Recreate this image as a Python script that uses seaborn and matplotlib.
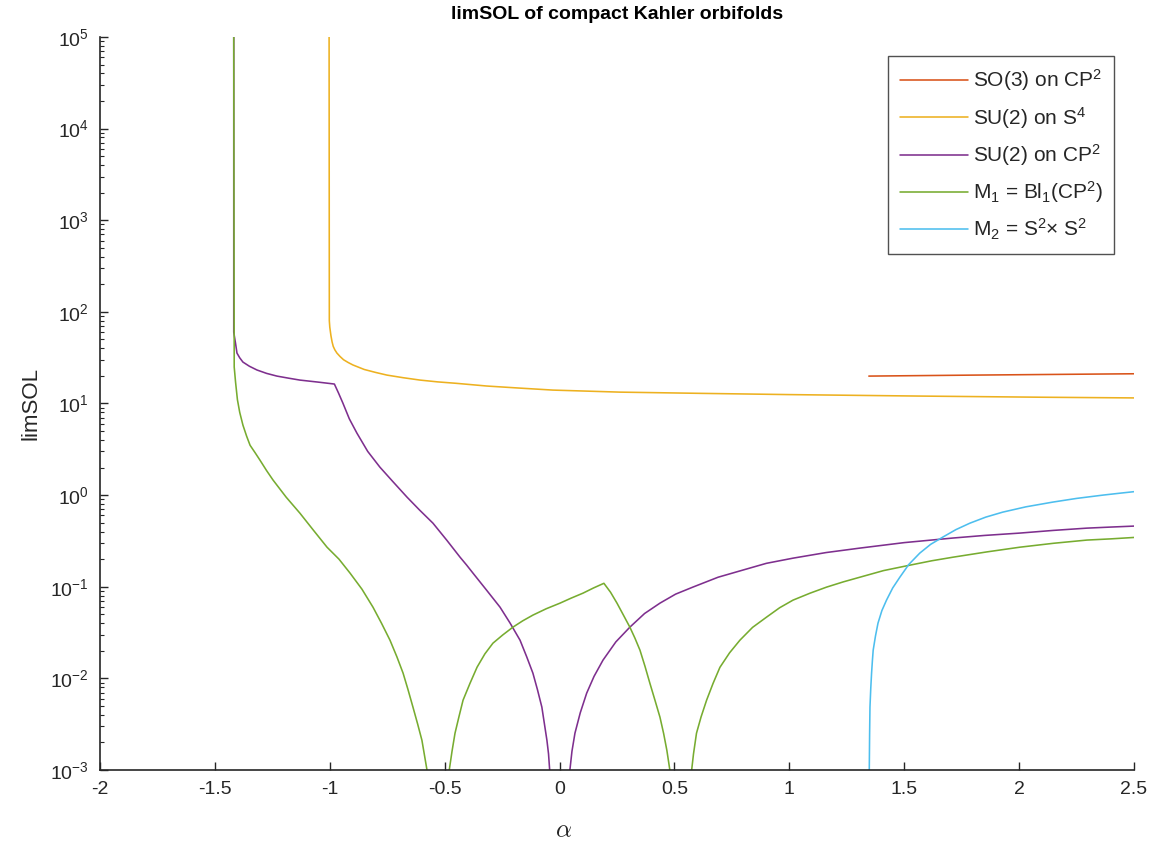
import numpy as np
import pandas as pd
import matplotlib
matplotlib.use("Agg")
import matplotlib.pyplot as plt
import seaborn as sns

# values (alpha, limSOL)
so3_cp2_alpha = [1.346, 1.8, 2.2, 2.5]
so3_cp2_val = [19.9, 20.4, 20.8, 21.1]

su2_s4_alpha = [-1.003, -1.002, -1.0, -0.995, -0.99, -0.985, -0.978, -0.969, -0.955, -0.94,
                -0.92, -0.899, -0.85, -0.8, -0.751, -0.68, -0.607, -0.53, -0.45, -0.316,
                -0.17, -0.029, 0.263, 0.61, 1.0, 1.56, 2.1, 2.5]
su2_s4_val = [1e5, 80, 68, 55, 47, 42, 38.5, 35.5, 32.5, 30,
              28, 26.3, 23.5, 21.8, 20.4, 19.1, 18.0, 17.2, 16.6, 15.5,
              14.7, 14.0, 13.3, 12.9, 12.5, 12.05, 11.7, 11.5]

su2_cp2_a1 = [-1.418, -1.418, -1.41, -1.404, -1.392, -1.378, -1.35, -1.317, -1.275, -1.23,
              -1.18, -1.13, -1.05, -0.98, -0.962, -0.943, -0.915, -0.882, -0.835, -0.782,
              -0.725, -0.664, -0.61, -0.551, -0.49, -0.433, -0.405, -0.377, -0.318, -0.259,
              -0.215, -0.172, -0.143, -0.116, -0.096, -0.077, -0.066, -0.055, -0.048, -0.043]
su2_cp2_v1 = [1e5, 60, 45, 35.5, 31.5, 28.3, 25.5, 23.2, 21.3, 19.9,
              18.9, 18.0, 17.1, 16.3, 13.0, 10.1, 6.8, 4.75, 3.0, 2.02,
              1.4, 0.951, 0.69, 0.494, 0.32, 0.21, 0.173, 0.141, 0.092, 0.0598,
              0.04, 0.0261, 0.0172, 0.0114, 0.0075, 0.00485, 0.0032, 0.00211, 0.0015, 0.001]
su2_cp2_a2 = [0.045, 0.054, 0.067, 0.09, 0.118, 0.15, 0.189, 0.245, 0.306, 0.37,
              0.437, 0.505, 0.58, 0.69, 0.798, 0.9, 1.016, 1.16, 1.307, 1.5,
              1.712, 1.85, 2.003, 2.15, 2.295, 2.4, 2.5]
su2_cp2_v2 = [0.001, 0.0016, 0.00252, 0.0042, 0.00689, 0.0105, 0.0158, 0.025, 0.0362, 0.051,
              0.0662, 0.083, 0.099, 0.127, 0.152, 0.18, 0.205, 0.236, 0.264, 0.303,
              0.34, 0.363, 0.385, 0.412, 0.436, 0.448, 0.459]

m1_a1 = [-1.418, -1.416, -1.41, -1.402, -1.392, -1.378, -1.362, -1.347, -1.325, -1.304,
         -1.275, -1.247, -1.19, -1.13, -1.07, -1.012, -0.96, -0.912, -0.86, -0.812,
         -0.775, -0.738, -0.708, -0.681, -0.66, -0.638, -0.618, -0.599, -0.577]
m1_v1 = [1e5, 25, 17, 11, 8.0, 5.8, 4.4, 3.5, 2.9, 2.41,
         1.85, 1.46, 0.95, 0.635, 0.41, 0.27, 0.2, 0.141, 0.094, 0.0598,
         0.040, 0.0261, 0.0172, 0.0114, 0.0076, 0.00485, 0.0032, 0.00211, 0.001]
m1_a2 = [-0.48, -0.468, -0.455, -0.438, -0.42, -0.39, -0.359, -0.325, -0.29, -0.247,
         -0.203, -0.16, -0.116, -0.058, 0.002, 0.05, 0.102, 0.148, 0.193,
         0.222, 0.25, 0.278, 0.306, 0.328, 0.35, 0.372, 0.393, 0.415, 0.437, 0.453, 0.467, 0.48]
m1_v2 = [0.001, 0.0016, 0.00252, 0.0038, 0.00578, 0.0088, 0.01324, 0.0185, 0.0242, 0.0298,
         0.0362, 0.0425, 0.049, 0.0575, 0.0662, 0.075, 0.0851, 0.097, 0.109,
         0.087, 0.0662, 0.049, 0.0362, 0.0275, 0.0203, 0.0135, 0.00887, 0.0058, 0.00377,
         0.0025, 0.00164, 0.001]
m1_a3 = [0.575, 0.583, 0.596, 0.616, 0.64, 0.668, 0.698, 0.74, 0.785, 0.84,
         0.901, 0.958, 1.016, 1.09, 1.162, 1.235, 1.307, 1.41, 1.525, 1.62,
         1.712, 1.86, 2.003, 2.15, 2.295, 2.4, 2.5]
m1_v3 = [0.001, 0.0015, 0.00252, 0.0038, 0.00578, 0.0088, 0.0132, 0.019, 0.0261, 0.036,
         0.0466, 0.059, 0.0714, 0.085, 0.099, 0.113, 0.127, 0.15, 0.172, 0.192,
         0.21, 0.24, 0.27, 0.298, 0.323, 0.333, 0.345]

m2_alpha = [1.348, 1.3495, 1.351, 1.3545, 1.358, 1.3615, 1.365, 1.375, 1.386, 1.403,
            1.423, 1.45, 1.481, 1.52, 1.568, 1.615, 1.668, 1.725, 1.786, 1.855,
            1.929, 2.03, 2.147, 2.25, 2.365, 2.44, 2.5]
m2_val = [0.001, 0.0025, 0.00485, 0.0078, 0.0114, 0.0155, 0.0203, 0.029, 0.0401, 0.055,
          0.0714, 0.097, 0.127, 0.175, 0.233, 0.29, 0.348, 0.42, 0.494, 0.575,
          0.652, 0.745, 0.839, 0.92, 1.0, 1.05, 1.09]

labels = ["SO(3) on CP$^2$", "SU(2) on S$^4$", "SU(2) on CP$^2$",
          "M$_1$ = Bl$_1$(CP$^2$)", "M$_2$ = S$^2$$\\times$ S$^2$"]
colors = ["#D95319", "#EDB120", "#7E2F8E", "#77AC30", "#4DBEEE"]
xtick_vals = [-2, -1.5, -1, -0.5, 0, 0.5, 1, 1.5, 2, 2.5]
xtick_labels = ["-2", "-1.5", "-1", "-0.5", "0", "0.5", "1", "1.5", "2", "2.5"]

series = [
    [(so3_cp2_alpha, so3_cp2_val)],
    [(su2_s4_alpha, su2_s4_val)],
    [(su2_cp2_a1, su2_cp2_v1), (su2_cp2_a2, su2_cp2_v2)],
    [(m1_a1, m1_v1), (m1_a2, m1_v2), (m1_a3, m1_v3)],
    [(m2_alpha, m2_val)],
]

sns.set_style("white")
plt.rcParams["font.family"] = ["Liberation Sans", "DejaVu Sans"]
plt.rcParams["mathtext.fontset"] = "custom"
plt.rcParams["mathtext.rm"] = "Liberation Sans"
plt.rcParams["mathtext.it"] = "Liberation Sans:italic"
plt.rcParams["axes.unicode_minus"] = False

fig = plt.figure(figsize=(11.59, 8.48), dpi=100)
ax = fig.add_axes([0.0863, 0.092, 0.8921, 0.8644])

handles = []
for lab, col, parts in zip(labels, colors, series):
    for a, v in parts:
        df = pd.DataFrame({"alpha": a, "val": v})
        sns.lineplot(data=df, x="alpha", y="val", ax=ax, color=col, lw=1.15,
                     sort=False, estimator=None)
    handles.append(ax.lines[-1])

ax.set_yscale("log")
ax.set_xlim(-2, 2.5)
ax.set_ylim(1e-3, 1e5)
ax.set_xticks(xtick_vals)
ax.set_xticklabels(xtick_labels)
ax.set_yticks([10.0 ** k for k in range(-3, 6)])
ax.yaxis.set_minor_locator(matplotlib.ticker.LogLocator(base=10, subs=np.arange(2, 10), numticks=20))
ax.yaxis.set_minor_formatter(matplotlib.ticker.NullFormatter())

ax.tick_params(axis="both", which="major", direction="in", length=6, width=1,
               colors="#262626", labelsize=14, labelcolor="#262626", pad=8,
               bottom=True, left=True)
ax.tick_params(axis="y", which="minor", direction="in", length=3, width=0.8,
               colors="#262626", left=True)
ax.tick_params(axis="x", which="minor", bottom=False)

for s in ["top", "right"]:
    ax.spines[s].set_visible(False)
for s in ["left", "bottom"]:
    ax.spines[s].set_color("#262626")
    ax.spines[s].set_linewidth(1.2)

ax.set_title("limSOL of compact Kahler orbifolds", fontsize=14, fontweight="bold",
             color="black", pad=13)
ax.set_xlabel(r"$\alpha$", fontsize=18, color="#262626", math_fontfamily="cm", labelpad=12)
ax.xaxis.set_label_coords(0.448, -0.065)
ax.set_ylabel("limSOL", fontsize=16, color="#262626", labelpad=6)

leg = ax.legend(handles, labels, loc="upper right", bbox_to_anchor=(0.9807, 0.974),
                borderaxespad=0, fontsize=15, frameon=True, fancybox=False,
                edgecolor="#262626", handlelength=3.3, handletextpad=0.2,
                labelspacing=0.55, borderpad=0.55)
leg.get_frame().set_linewidth(1.0)

fig.savefig("out.png", dpi=100, facecolor="white")
